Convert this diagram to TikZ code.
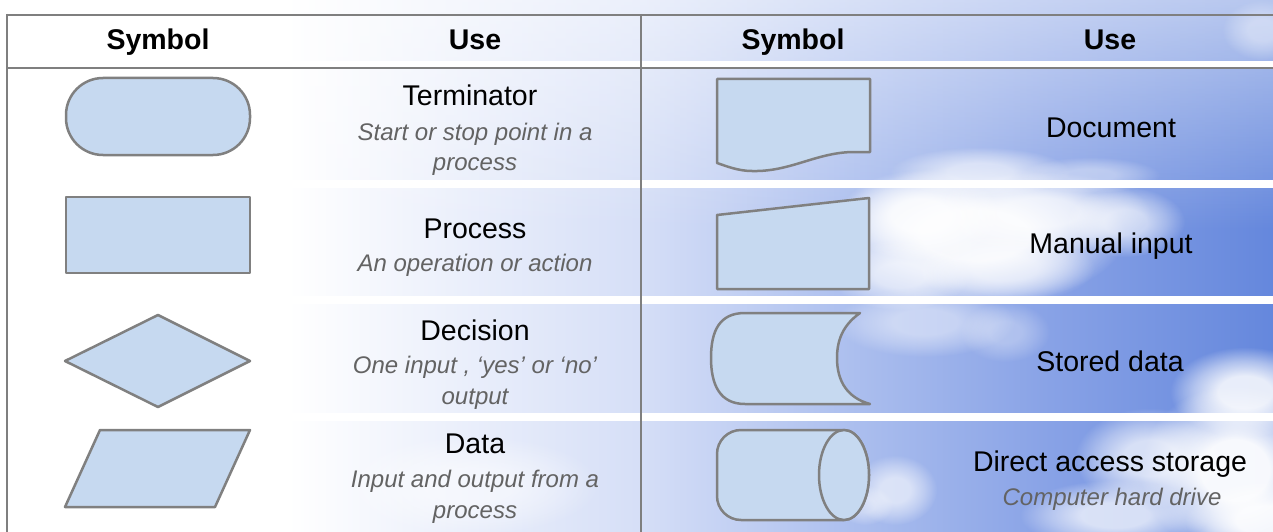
\documentclass[tikz,border=0pt]{standalone}
\usepackage{fontspec}
\setmainfont{Liberation Sans}
\usetikzlibrary{fadings}

\definecolor{gridgray}{HTML}{7F7F7F}
\definecolor{shapefill}{HTML}{C6D9F0}
\definecolor{shapeline}{HTML}{808080}
\definecolor{subgray}{HTML}{636363}
\definecolor{skyA}{HTML}{D6DFF7}
\definecolor{skyB}{HTML}{ABBEEE}
\definecolor{skyC}{HTML}{88A2E6}
\definecolor{skyD}{HTML}{6386DC}

% sky behind the table: white on the left, blue towards the right
\pgfdeclarehorizontalshading{sky}{100bp}{%
  color(0bp)=(white); color(25bp)=(white); color(36.5bp)=(white);
  color(50bp)=(skyA); color(58.5bp)=(skyB); color(66bp)=(skyC);
  color(75bp)=(skyD); color(100bp)=(skyD)}

% soft cloud puff: solid core, fuzzy rim
\pgfdeclareradialshading{puffmask}{\pgfpointorigin}{%
  color(0bp)=(white); color(9bp)=(white); color(17bp)=(white!55!black);
  color(25bp)=(black); color(50bp)=(black)}
\pgfdeclarefading{puff}{\pgfuseshading{puffmask}}
\tikzfading[name=toplight, top color=transparent!45, bottom color=transparent!100]

\tikzset{
  sym/.style={draw=shapeline, fill=shapefill, line width=2.5pt, line join=round},
  rule/.style={draw=gridgray, line width=2pt},
  gap/.style={fill=white},
  cloud/.style={fill=white, path fading=puff, fill opacity=#1},
  cloud/.default=0.8,
  head/.style={font=\fontsize{28.5}{32}\selectfont\bfseries, anchor=base, inner sep=0pt},
  title/.style={font=\fontsize{28.5}{32}\selectfont, anchor=base, inner sep=0pt},
  sub/.style={font=\fontsize{24}{28}\selectfont\itshape, text=subgray, anchor=base, inner sep=0pt},
}

\begin{document}
\begin{tikzpicture}[x=1pt, y=-1pt]
\useasboundingbox (0,0) rectangle (1273,532);

% background sky
\shade[shading=sky] (-10,-10) rectangle (1283,542);
\fill[white, path fading=toplight] (-10,-10) rectangle (1283,230);

% clouds
\fill[cloud=0.9]  (975,235) ellipse [x radius=150, y radius=70];
\fill[cloud=0.85] (920,215) ellipse [x radius=80, y radius=45];
\fill[cloud=0.7]  (1040,212) ellipse [x radius=110, y radius=40];
\fill[cloud=0.6]  (1125,222) ellipse [x radius=60, y radius=35];
\fill[cloud=0.6]  (900,275) ellipse [x radius=70, y radius=35];
\fill[cloud=0.55] (1005,268) ellipse [x radius=90, y radius=35];
\fill[cloud=0.6]  (980,172) ellipse [x radius=90, y radius=25];
\fill[cloud=0.4]  (1090,175) ellipse [x radius=70, y radius=18];
\fill[cloud=0.45] (925,322) ellipse [x radius=90, y radius=35];
\fill[cloud=0.3]  (1005,332) ellipse [x radius=45, y radius=30];
\fill[cloud=0.85] (1245,392) ellipse [x radius=75, y radius=45];
\fill[cloud=0.95] (1235,470) ellipse [x radius=95, y radius=85];
\fill[cloud=0.7]  (1150,458) ellipse [x radius=75, y radius=50];
\fill[cloud=0.7]  (1115,515) ellipse [x radius=95, y radius=35];
\fill[cloud=0.9]  (1265,520) ellipse [x radius=80, y radius=40];
\fill[cloud=0.6]  (895,490) ellipse [x radius=42, y radius=35];
\fill[cloud=0.4]  (865,505) ellipse [x radius=28, y radius=20];
\fill[cloud=0.4]  (1262,30) ellipse [x radius=40, y radius=30];
\fill[cloud=0.5]  (470,485) ellipse [x radius=130, y radius=50];

% white gaps between rows
\fill[gap] (7,61) rectangle (1283,68);
\fill[gap] (7,180) rectangle (1283,188);
\fill[gap] (7,296) rectangle (1283,304);
\fill[gap] (7,413) rectangle (1283,421);

% table rules
\draw[rule] (7,15) -- (1283,15);
\draw[rule] (7,68.5) -- (1283,68.5);
\draw[rule] (7,14) -- (7,542);
\draw[rule] (641,14) -- (641,542);

% header
\node[head] (h1) at (158,50) {Symbol};
\node[head] (h2) at (475,50) {Use};
\node[head] (h3) at (793,50) {Symbol};
\node[head] (h4) at (1110,50) {Use};

% terminator
\draw[sym, rounded corners=37pt] (66,78) rectangle (250,155);
\node[title] (t1) at (470,106) {Terminator};
\node[sub] (t1a) at (475,140) {Start or stop point in a};
\node[sub] (t1b) at (475,170) {process};

% process
\draw[sym] (66,197) rectangle (250,273);
\node[title] (t2) at (475,238) {Process};
\node[sub] (t2a) at (475,271) {An operation or action};

% decision
\draw[sym] (158,315) -- (250,361) -- (158,407) -- (65,361) -- cycle;
\node[title] (t3) at (475,340) {Decision};
\node[sub] (t3a) at (475,373) {One input , ‘yes’ or ‘no’};
\node[sub] (t3b) at (475,404) {output};

% data
\draw[sym] (100,430) -- (250,430) -- (215,507) -- (65,507) -- cycle;
\node[title] (t4) at (475,453) {Data};
\node[sub] (t4a) at (475,487) {Input and output from a};
\node[sub] (t4b) at (475,518) {process};

% document
\draw[sym] (717,79) -- (870,79) -- (870,152) -- (852,152)
  .. controls (815,153) and (790,172) .. (752,171)
  .. controls (738,171) and (726,166) .. (717,163) -- cycle;
\node[title] (t5) at (1111,137) {Document};

% manual input
\draw[sym] (717,215) -- (869,198) -- (869,289) -- (717,289) -- cycle;
\node[title] (t6) at (1111,253) {Manual input};

% stored data
\draw[sym] (745,313) -- (860,313)
  .. controls (843,325) and (837,340) .. (837,358)
  .. controls (837,382) and (848,398) .. (870,404) -- (745,404)
  .. controls (720,404) and (711,385) .. (711,358)
  .. controls (711,330) and (720,313) .. (745,313) -- cycle;
\node[title] (t7) at (1110,371) {Stored data};

% direct access storage
\draw[sym] (844,520) [rounded corners=24pt] -- (717,520) -- (717,430) [sharp corners] -- (844,430)
  arc[start angle=-90, end angle=90, x radius=25, y radius=45] -- cycle;
\draw[sym] (844,475) ellipse [x radius=25, y radius=45];
\node[title] (t8) at (1110,471) {Direct access storage};
\node[sub] (t8a) at (1112,505) {Computer hard drive};
\end{tikzpicture}
\end{document}
